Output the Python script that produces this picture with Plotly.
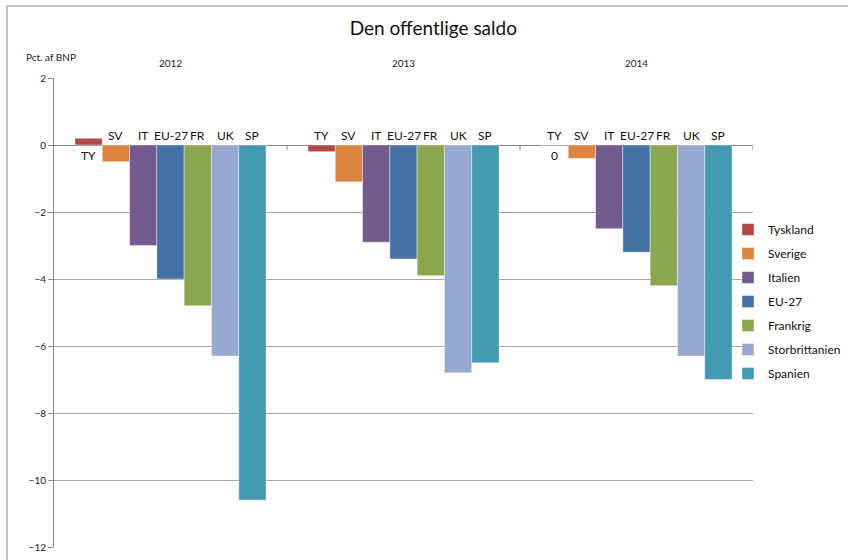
import plotly.graph_objects as go

years = ["2012", "2013", "2014"]
series_names = ["Tyskland", "Sverige", "Italien", "EU-27", "Frankrig", "Storbrittanien", "Spanien"]
short_labels = ["TY", "SV", "IT", "EU-27", "FR", "UK", "SP"]
tyskland = [0.2, -0.2, 0.0]
sverige = [-0.5, -1.1, -0.4]
italien = [-3.0, -2.9, -2.5]
eu27 = [-4.0, -3.4, -3.2]
frankrig = [-4.8, -3.9, -4.2]
storbrittanien = [-6.3, -6.8, -6.3]
spanien = [-10.6, -6.5, -7.0]
values = [tyskland, sverige, italien, eu27, frankrig, storbrittanien, spanien]
colors = ["#B04A48", "#DD8540", "#735A8F", "#4472A7", "#8BA74E", "#97A9D0", "#4299B1"]

FONT = "Lato, 'Liberation Sans', Arial, sans-serif"
BARGAP = 0.18

fig = go.Figure()
for name, vals, col in zip(series_names, values, colors):
    fig.add_trace(go.Bar(
        x=years, y=vals, name=name, legendgroup=name,
        marker=dict(color=col, line=dict(color="rgba(255,255,255,0.7)", width=0.6)),
    ))

# data labels (series abbreviations) near the zero line
n = len(series_names)
bw = (1 - BARGAP) / n
annotations = []
for i, (lab, vals) in enumerate(zip(short_labels, values)):
    for j, v in enumerate(vals):
        xc = j - (1 - BARGAP) / 2 + (i + 0.5) * bw
        if v > 0:
            annotations.append(dict(x=xc, y=0, xref="x", yref="y", text=lab, showarrow=False,
                                    yanchor="top", yshift=-1, font=dict(size=12, color="#111", family=FONT)))
        else:
            annotations.append(dict(x=xc, y=0, xref="x", yref="y", text=lab, showarrow=False,
                                    yanchor="bottom", yshift=0, font=dict(size=12, color="#111", family=FONT)))
            if v == 0:
                annotations.append(dict(x=xc, y=0, xref="x", yref="y", text="0", showarrow=False,
                                        yanchor="top", yshift=-1, font=dict(size=12, color="#111", family=FONT)))

annotations.append(dict(x=(24 - 54) / 699, y=(547 - 57) / 469, xref="paper", yref="paper",
                        text="Pct. af BNP", showarrow=False, xanchor="left", yanchor="middle",
                        font=dict(size=10, color="#222", family=FONT)))

shapes = [dict(type="rect", xref="paper", yref="paper",
               x0=(7 - 54) / 699, x1=(870 - 54) / 699, y0=-0.2, y1=(547 - 6) / 469,
               line=dict(color="#8E8E8E", width=1), fillcolor="rgba(0,0,0,0)", layer="below")]
for xb in [0.5, 1.5, 2.5]:
    shapes.append(dict(type="line", xref="x", yref="y", x0=xb, x1=xb, ysizemode="pixel",
                       yanchor=0, y0=0, y1=-5, line=dict(color="#868686", width=1)))

fig.update_layout(
    width=848, height=560,
    margin=dict(l=54, r=95, t=78, b=13, autoexpand=False),
    paper_bgcolor="white", plot_bgcolor="white",
    barmode="group", bargap=BARGAP, bargroupgap=0,
    title=dict(text="Den offentlige saldo", x=0.511, xanchor="center", y=1 - 28 / 560, yanchor="middle",
               font=dict(size=19, color="#111", family=FONT)),
    font=dict(family=FONT, color="#222"),
    xaxis=dict(type="category", side="top", showgrid=False, showline=False, ticks="",
               tickfont=dict(size=10, color="#222"), range=[-0.5, 2.5], ticklabelstandoff=8,
               automargin=False),
    yaxis=dict(range=[-12, 2], dtick=2, showgrid=True, gridcolor="#A6A6A6", gridwidth=1,
               zeroline=True, zerolinecolor="#868686", zerolinewidth=1,
               showline=True, linecolor="#868686", linewidth=1, ticks="outside", ticklen=5,
               tickcolor="#868686", tickfont=dict(size=10, color="#222"), automargin=False),
    legend=dict(x=(728 - 54) / 699, xanchor="left", y=(547 - 215) / 469, yanchor="top",
                font=dict(size=12, color="#111", family=FONT), tracegroupgap=5,
                bgcolor="rgba(0,0,0,0)"),
    annotations=annotations,
    shapes=shapes,
)

fig.write_html("out.html", config={"displayModeBar": False},
               post_script="document.body.style.margin='0';document.body.style.overflow='hidden';")
